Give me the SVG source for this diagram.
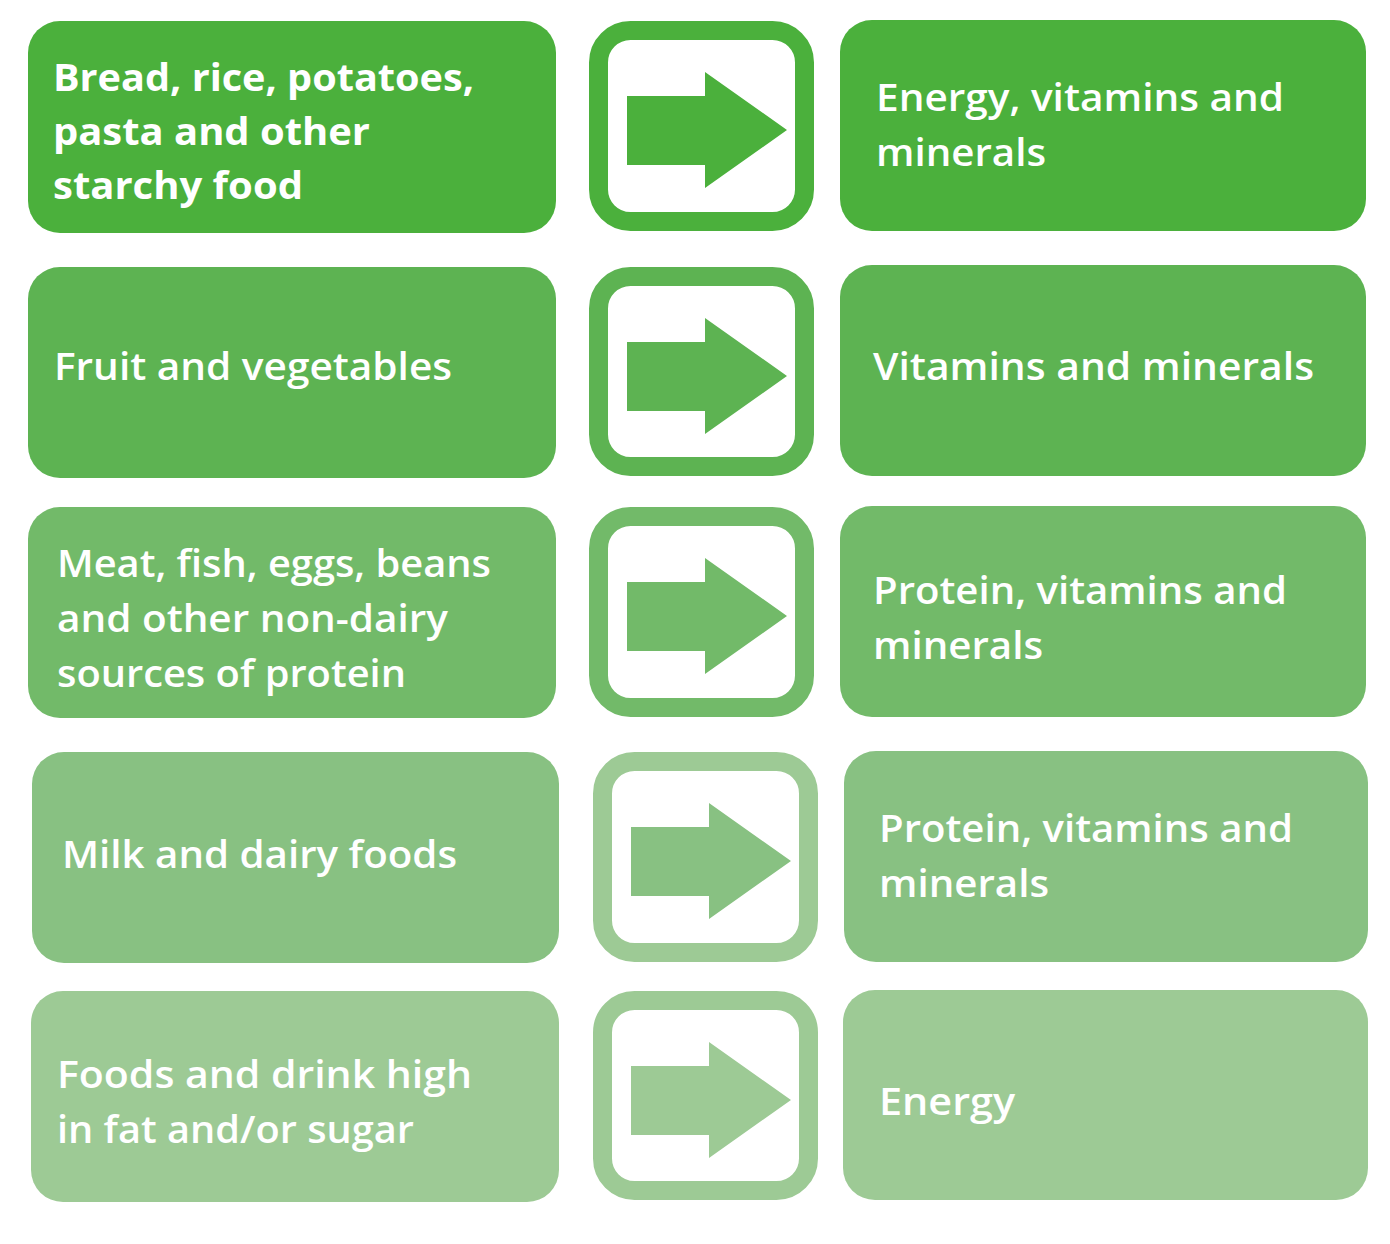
<svg xmlns="http://www.w3.org/2000/svg" width="1390" height="1244" viewBox="0 0 1390 1244">
<style>
.t{font-family:"Open Sans","Noto Sans",sans-serif;font-size:38px;font-weight:600;fill:#ffffff}
.b{font-weight:700}
.frame{fill:#ffffff;stroke-width:19}
.c1{fill:#4bb03c}.s1{stroke:#4bb03c}
.c2{fill:#5db352}.s2{stroke:#5db352}
.c3{fill:#72ba69}.s3{stroke:#72ba69}
.c4{fill:#88c182}.s4{stroke:#9dca95}
.c5{fill:#9dca95}.s5{stroke:#9dca95}
</style>
<defs>
<path id="arr" d="M38,75 H116 V51 L198,109 L116,167 V144 H38 Z"/>
</defs>
<rect width="1390" height="1244" fill="#ffffff"/>

<g id="food1">
<rect class="c1" x="28" y="21" width="528" height="212" rx="32"/>
<text class="t b" x="53" y="91" textLength="421" lengthAdjust="spacingAndGlyphs">Bread, rice, potatoes,</text>
<text class="t b" x="53" y="145" textLength="317" lengthAdjust="spacingAndGlyphs">pasta and other</text>
<text class="t b" x="53" y="199" textLength="250" lengthAdjust="spacingAndGlyphs">starchy food</text>
</g>
<g id="food2">
<rect class="c2" x="28" y="267" width="528" height="211" rx="32"/>
<text class="t" x="54" y="380" textLength="398" lengthAdjust="spacingAndGlyphs">Fruit and vegetables</text>
</g>
<g id="food3">
<rect class="c3" x="28" y="507" width="528" height="211" rx="32"/>
<text class="t" x="57" y="577" textLength="434" lengthAdjust="spacingAndGlyphs">Meat, fish, eggs, beans</text>
<text class="t" x="57" y="632" textLength="391" lengthAdjust="spacingAndGlyphs">and other non-dairy</text>
<text class="t" x="57" y="687" textLength="349" lengthAdjust="spacingAndGlyphs">sources of protein</text>
</g>
<g id="food4">
<rect class="c4" x="32" y="752" width="527" height="211" rx="32"/>
<text class="t" x="62" y="868" textLength="395" lengthAdjust="spacingAndGlyphs">Milk and dairy foods</text>
</g>
<g id="food5">
<rect class="c5" x="31" y="991" width="528" height="211" rx="32"/>
<text class="t" x="57" y="1088" textLength="415" lengthAdjust="spacingAndGlyphs">Foods and drink high</text>
<text class="t" x="57" y="1143" textLength="357" lengthAdjust="spacingAndGlyphs">in fat and/or sugar</text>
</g>

<g id="connectors">
<g id="arrow1" transform="translate(589,21)">
<rect class="frame s1" x="9.5" y="9.5" width="206" height="191" rx="32"/>
<use href="#arr" class="c1"/>
</g>
<g id="arrow2" transform="translate(589,267)">
<rect class="frame s2" x="9.5" y="9.5" width="206" height="190" rx="32"/>
<use href="#arr" class="c2"/>
</g>
<g id="arrow3" transform="translate(589,507)">
<rect class="frame s3" x="9.5" y="9.5" width="206" height="191" rx="32"/>
<use href="#arr" class="c3"/>
</g>
<g id="arrow4" transform="translate(593,752)">
<rect class="frame s4" x="9.5" y="9.5" width="206" height="191" rx="32"/>
<use href="#arr" class="c4"/>
</g>
<g id="arrow5" transform="translate(593,991)">
<rect class="frame s5" x="9.5" y="9.5" width="206" height="190" rx="32"/>
<use href="#arr" class="c5"/>
</g>
</g>

<g id="nutrient1">
<rect class="c1" x="840" y="20" width="526" height="211" rx="32"/>
<text class="t" x="876" y="111" textLength="408" lengthAdjust="spacingAndGlyphs">Energy, vitamins and</text>
<text class="t" x="876" y="166" textLength="170" lengthAdjust="spacingAndGlyphs">minerals</text>
</g>
<g id="nutrient2">
<rect class="c2" x="840" y="265" width="526" height="211" rx="32"/>
<text class="t" x="873" y="380" textLength="441" lengthAdjust="spacingAndGlyphs">Vitamins and minerals</text>
</g>
<g id="nutrient3">
<rect class="c3" x="840" y="506" width="526" height="211" rx="32"/>
<text class="t" x="873" y="604" textLength="414" lengthAdjust="spacingAndGlyphs">Protein, vitamins and</text>
<text class="t" x="873" y="659" textLength="170" lengthAdjust="spacingAndGlyphs">minerals</text>
</g>
<g id="nutrient4">
<rect class="c4" x="844" y="751" width="524" height="211" rx="32"/>
<text class="t" x="879" y="842" textLength="414" lengthAdjust="spacingAndGlyphs">Protein, vitamins and</text>
<text class="t" x="879" y="897" textLength="170" lengthAdjust="spacingAndGlyphs">minerals</text>
</g>
<g id="nutrient5">
<rect class="c5" x="843" y="990" width="525" height="210" rx="32"/>
<text class="t" x="879" y="1115" textLength="136" lengthAdjust="spacingAndGlyphs">Energy</text>
</g>
</svg>
